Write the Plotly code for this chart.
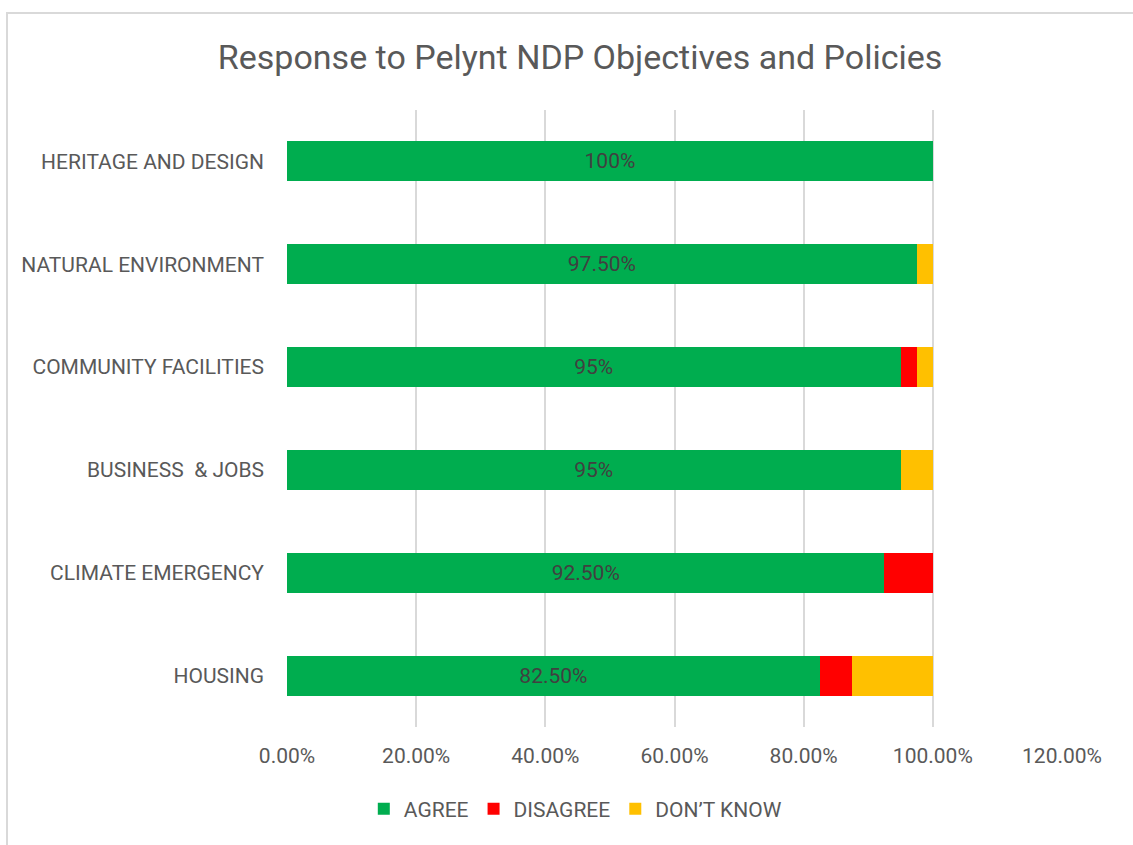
import plotly.graph_objects as go

# Survey response shares (%) per NDP objective, listed bottom to top
categories = ["HOUSING", "CLIMATE EMERGENCY", "BUSINESS  & JOBS",
              "COMMUNITY FACILITIES", "NATURAL ENVIRONMENT", "HERITAGE AND DESIGN"]
agree = [82.5, 92.5, 95.0, 95.0, 97.5, 100.0]
disagree = [5.0, 7.5, 0.0, 2.5, 0.0, 0.0]
dont_know = [12.5, 0.0, 5.0, 2.5, 2.5, 0.0]

x_ticks = [0, 20, 40, 60, 80, 100, 120]
x_tick_labels = ["0.00%", "20.00%", "40.00%", "60.00%", "80.00%", "100.00%", "120.00%"]


def pct_label(v):
    return f"{v:.0f}%" if float(v).is_integer() else f"{v:.2f}%"


FONT = "Roboto, Arial, sans-serif"
GREY = "#595959"
FS = 21

fig = go.Figure()
fig.add_trace(go.Bar(
    y=categories, x=agree, name="AGREE", orientation="h",
    marker=dict(color="#00AD4F", line=dict(width=0)),
    text=[pct_label(v) for v in agree], textposition="inside",
    insidetextanchor="middle",
    textfont=dict(family=FONT, size=FS, color="#404040"),
))
fig.add_trace(go.Bar(
    y=categories, x=disagree, name="DISAGREE", orientation="h",
    marker=dict(color="#FF0000", line=dict(width=0)),
))
fig.add_trace(go.Bar(
    y=categories, x=dont_know, name="DON\u2019T KNOW", orientation="h",
    marker=dict(color="#FFC000", line=dict(width=0)),
))

fig.update_layout(
    barmode="stack",
    bargap=0.61,
    uniformtext=dict(minsize=FS, mode="show"),
    width=1133, height=845,
    margin=dict(l=287, r=71, t=110, b=118),
    paper_bgcolor="white", plot_bgcolor="white",
    font=dict(family=FONT, color=GREY),
    title=dict(text="Response to Pelynt NDP Objectives and Policies",
               x=0.512, xanchor="center", y=0.932, yanchor="middle",
               font=dict(family=FONT, size=34, color=GREY)),
    legend=dict(orientation="h", x=0.372, xanchor="center", y=-0.133,
                yanchor="middle", font=dict(family=FONT, size=FS, color=GREY),
                traceorder="normal", itemwidth=30),
    xaxis=dict(range=[0, 120], tickvals=x_ticks, ticktext=x_tick_labels,
               showgrid=True, gridcolor="#D9D9D9", gridwidth=1.5,
               zeroline=False, showline=False,
               tickfont=dict(family=FONT, size=FS, color=GREY),
               ticklabelstandoff=14, fixedrange=True),
    yaxis=dict(showgrid=False, zeroline=False, showline=False,
               tickfont=dict(family=FONT, size=FS, color=GREY),
               ticklabelstandoff=22, fixedrange=True),
    shapes=[dict(type="rect", xref="paper", yref="paper",
                 x0=(7 - 287) / 775, x1=1.5, y0=-0.5, y1=(727 - 13) / 617,
                 line=dict(color="#D9D9D9", width=2), layer="below")],
)

fig.write_html("out.html")
